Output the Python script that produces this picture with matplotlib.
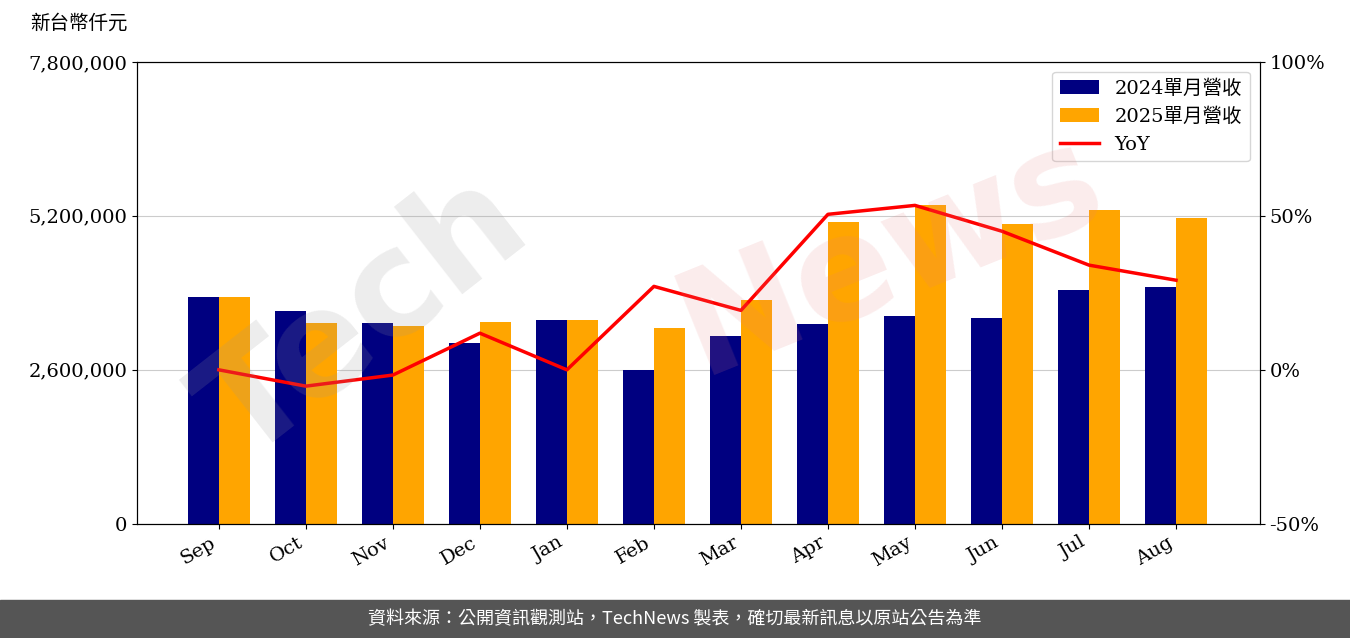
import numpy as np
import matplotlib.pyplot as plt

plt.rcParams['font.family'] = ['DejaVu Serif', 'Noto Sans CJK TC']

months = ['Sep', 'Oct', 'Nov', 'Dec', 'Jan', 'Feb', 'Mar', 'Apr', 'May', 'Jun', 'Jul', 'Aug']
rev_2024 = [3830000, 3600000, 3390000, 3060000, 3440000, 2600000, 3170000, 3380000, 3510000, 3480000, 3950000, 4000000]
rev_2025 = [3830000, 3390000, 3340000, 3410000, 3440000, 3310000, 3780000, 5100000, 5390000, 5060000, 5300000, 5170000]
yoy = [0.0, -5.3, -1.7, 11.9, 0.0, 27.1, 19.3, 50.5, 53.4, 45.0, 34.0, 29.1]

fig = plt.figure(figsize=(13.5, 6.38), dpi=100)
ax = fig.add_axes([0.1015, 0.179, 0.8315, 0.724])
x = np.arange(len(months))
w = 0.355
ax.bar(x - w / 2, rev_2024, w, color='#000080', label='2024單月營收', zorder=2)
ax.bar(x + w / 2, rev_2025, w, color='#FFA500', label='2025單月營收', zorder=2)
ax.set_ylim(0, 7800000)
ax.set_xlim(-0.94, 11.96)
ax.set_yticks([0, 2600000, 5200000, 7800000])
ax.set_yticklabels(['0', '2,600,000', '5,200,000', '7,800,000'], fontsize=14)
ax.grid(axis='y', color='#cccccc', zorder=0)
ax.set_xticks(x)
ax.set_xticklabels(months, rotation=30, ha='right', fontsize=14)

ax2 = ax.twinx()
ax2.plot(x, yoy, color='red', lw=2.5, label='YoY')
ax2.set_ylim(-50, 100)
ax2.set_yticks([-50, 0, 50, 100])
ax2.set_yticklabels(['-50%', '0%', '50%', '100%'], fontsize=14)

h1, l1 = ax.get_legend_handles_labels()
h2, l2 = ax2.get_legend_handles_labels()
ax2.legend(h1 + h2, l1 + l2, loc='upper right', fontsize=14)

fig.text(0.022, 0.955, '新台幣仟元', fontsize=14, family='Noto Sans CJK TC')
# watermark
fig.text(0.27, 0.50, 'Tech', fontsize=105, color='#999999', alpha=0.18, rotation=38,
         ha='center', va='center', family='DejaVu Sans', fontweight='bold')
fig.text(0.66, 0.60, 'News', fontsize=105, color='#e88080', alpha=0.15, rotation=22,
         ha='center', va='center', family='DejaVu Sans', fontweight='bold')
fig.patches.append(plt.Rectangle((0, 0), 1, 0.06, transform=fig.transFigure, color='#555555', zorder=0))
fig.text(0.5, 0.03, '資料來源：公開資訊觀測站，TechNews 製表，確切最新訊息以原站公告為準',
         color='white', fontsize=13, ha='center', va='center', family='Noto Sans CJK TC')
fig.savefig('out.png')
